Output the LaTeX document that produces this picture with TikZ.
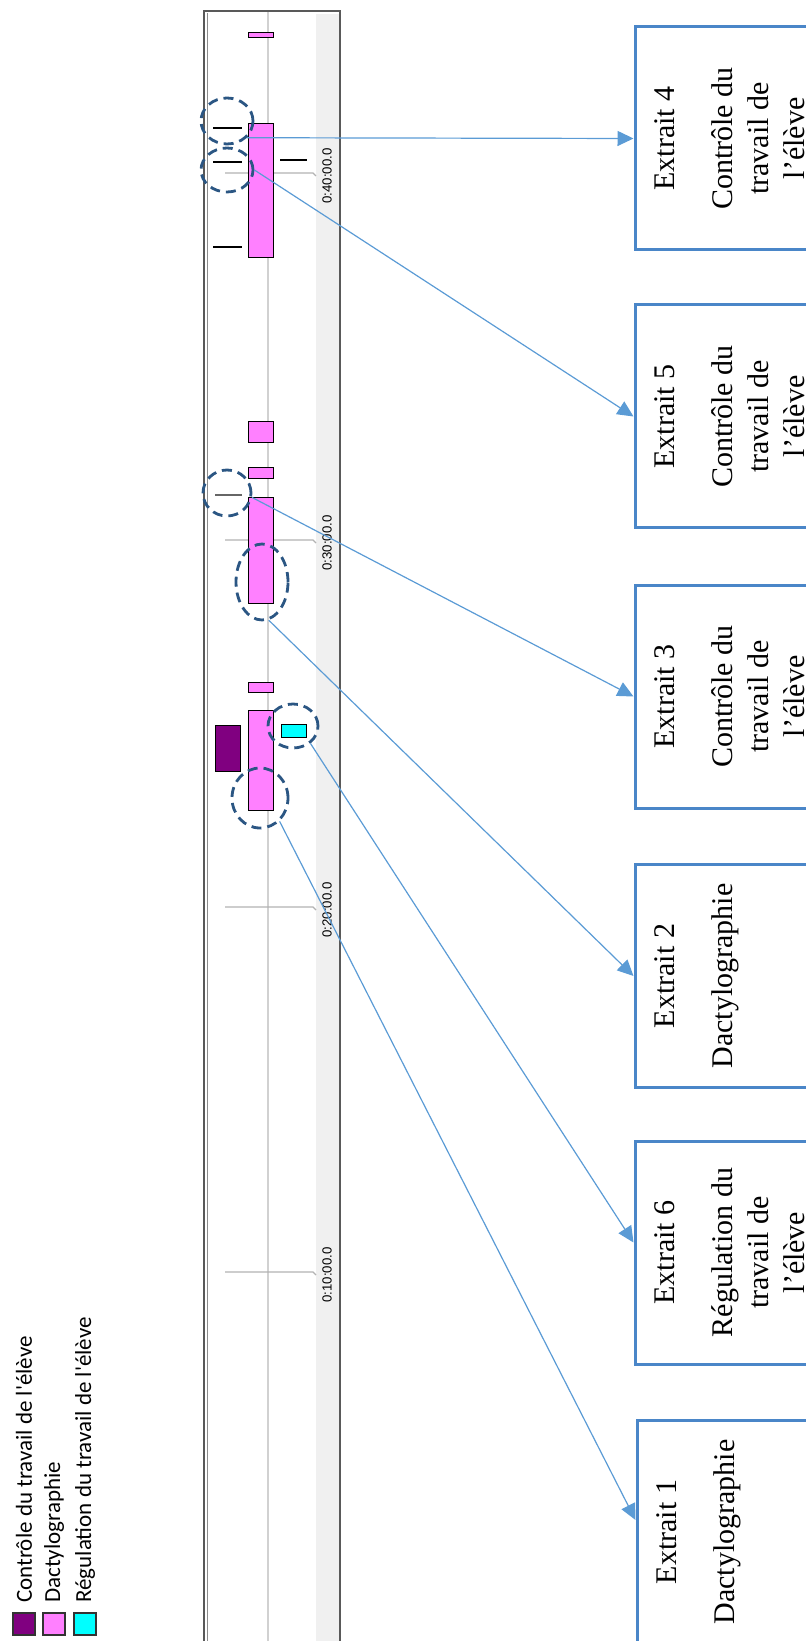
\documentclass[tikz,border=0pt]{standalone}
\usepackage{fontspec}
\setmainfont{Liberation Serif}
\newfontfamily\legendfont{Carlito}
\newfontfamily\tickfont{Liberation Sans}
\usetikzlibrary{shapes.geometric, arrows.meta}

\definecolor{boxblue}{HTML}{4A86C8}
\definecolor{linkblue}{HTML}{5B9BD5}
\definecolor{ringblue}{HTML}{2B5683}
\definecolor{dactylo}{HTML}{FF80FF}
\definecolor{controle}{HTML}{800080}
\definecolor{regulation}{HTML}{00FFFF}

\tikzstyle{extrait} = [
    rectangle,
    rotate=90,
    draw=boxblue,
    line width=1.5pt,
    minimum width=111.5pt,
    minimum height=100pt,
    inner sep=0pt
]
\tikzstyle{ring} = [
    ellipse,
    draw=ringblue,
    line width=1.4pt,
    dash pattern=on 5pt off 3pt,
    inner sep=0pt
]
\tikzstyle{bar} = [draw=black, line width=0.5pt]
\tikzstyle{instant} = [line width=1.1pt]
\tikzstyle{tickline} = [draw=black!30, line width=0.6pt]
\tikzstyle{arrow} = [draw=linkblue, line width=0.6pt, -{Triangle[length=8pt,width=7.5pt]}]

\newcommand{\extraittext}[2]{\parbox[c][100pt][t]{111pt}{\centering
    \fontsize{15}{18}\selectfont\vspace*{10pt}#1\\[11pt]#2}}

\begin{document}
\begin{tikzpicture}[x=0.5pt, y=-0.5pt]

\useasboundingbox (0,0) rectangle (806,1641);
\clip (0,0) rectangle (806,1641);

% chart panel
\fill[black!6] (316,14) rectangle (339,1645);
\draw[black!18, line width=1pt] (268,12) -- (268,1645);
\draw[black!65, line width=0.8pt] (204,1645) -- (204,11) -- (340,11) -- (340,1645);
\draw[black!45, line width=0.5pt] (207,13) -- (207,1645);

% time scale
\foreach \t/\lab [count=\i] in {173/0:40:00.0, 540/0:30:00.0, 907/0:20:00.0, 1272/0:10:00.0} {
    \draw[tickline] (225,\t) -- (313,\t) -- (316,\t+3);
    \node (t\i) [rotate=90, inner sep=0pt, font=\tickfont\fontsize{6.6}{7}\selectfont] at (327,\t+3) {\lab};
}

% bars
\draw[bar, fill=dactylo] (248,33) rectangle (273,38);
\draw[bar, fill=dactylo] (248,124) rectangle (273,258);
\draw[bar, fill=dactylo] (248,422) rectangle (273,443);
\draw[bar, fill=dactylo] (248,468) rectangle (273,479);
\draw[bar, fill=dactylo] (248,498) rectangle (273,603);
\draw[bar, fill=dactylo] (248,682) rectangle (273,692);
\draw[bar, fill=dactylo] (248,710) rectangle (273,810);
\draw[bar, fill=controle] (215,725) rectangle (240,771);
\draw[bar, fill=regulation] (281,724) rectangle (306,737);

\draw[instant] (213,128) -- (242,128);
\draw[instant] (213,162) -- (242,162);
\draw[instant] (213,247) -- (242,247);
\draw[instant] (280,160) -- (307,160);
\draw[instant, black!60] (215,495) -- (242,495);

% rings
\node (c1) [ring, minimum width=26pt, minimum height=23pt] at (227,121) {};
\node (c2) [ring, minimum width=26pt, minimum height=22pt] at (227,170) {};
\node (c3) [ring, minimum width=24pt, minimum height=23pt] at (227,493) {};
\node (c4) [ring, minimum width=26pt, minimum height=38pt] at (262,582) {};
\node (c5) [ring, minimum width=25pt, minimum height=22pt] at (293,726) {};
\node (c6) [ring, minimum width=28pt, minimum height=30pt] at (260,798) {};

% extraits
\node (x4) [extrait] at (735,138.5) {\extraittext{Extrait 4}{Contrôle du\\travail de\\l’élève}};
\node (x5) [extrait] at (735,416.5) {\extraittext{Extrait 5}{Contrôle du\\travail de\\l’élève}};
\node (x3) [extrait] at (735,696.5) {\extraittext{Extrait 3}{Contrôle du\\travail de\\l’élève}};
\node (x2) [extrait] at (735,976) {\extraittext{Extrait 2}{Dactylographie}};
\node (x6) [extrait] at (735,1252.5) {\extraittext{Extrait 6}{Régulation du\\travail de\\l’élève}};
\node (x1) [extrait] at (737,1532) {\extraittext{Extrait 1}{Dactylographie}};

\draw [arrow] (c1.-40) -- (x4.north);
\draw [arrow] (c2.east) -- (x5.north);
\draw [arrow] (c3.-10) -- (x3.north);
\draw [arrow] (c4.-80) -- (x2.north);
\draw [arrow] (c5.-45) -- ([yshift=5pt]x6.north);
\draw [arrow] (c6.-50) -- ([yshift=6pt]x1.north);

% legend
\foreach \x/\c/\txt [count=\i] in {24/controle/Contrôle du travail de l'élève, 54/dactylo/Dactylographie, 85/regulation/Régulation du travail de l'élève} {
    \draw[bar, line width=0.8pt, draw=black!80, fill=\c] (\x-11,1613) rectangle (\x+11,1635);
    \node (leg\i) [rotate=90, anchor=west, inner sep=0pt, font=\legendfont\fontsize{11.5}{13}\selectfont] at (\x,1603) {\txt};
}

\end{tikzpicture}
\end{document}
